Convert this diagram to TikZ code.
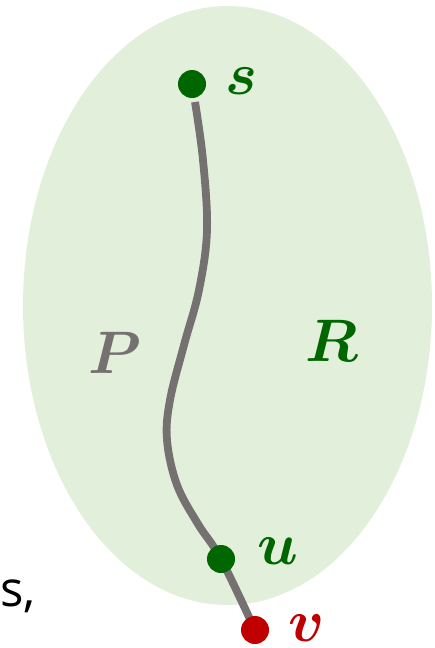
\documentclass[tikz,border=0pt]{standalone}
\usepackage{fontspec}
\usepackage{bm}
\usepackage{graphicx}
\newfontfamily\sansf{Open Sans}
\definecolor{regfill}{HTML}{E2EFDA}
\definecolor{dkgreen}{HTML}{006600}
\definecolor{pathgray}{HTML}{767171}
\definecolor{dkred}{HTML}{C00000}
\newcommand{\biglbl}[1]{\scalebox{6}{$\bm{#1}$}}
\tikzset{
  dot/.style={circle,inner sep=0pt,minimum size=28pt},
  lbl/.style={inner sep=0pt},
  pathline/.style={draw=pathgray,line width=7.8pt}
}
\begin{document}
\begin{tikzpicture}[x=1pt,y=-1pt]
\useasboundingbox (0,0) rectangle (434,648);
\fill[regfill] (227.5,305.5) ellipse [x radius=204.5, y radius=299.5];
\node[dot] (v) at (255,630) {};
\draw[pathline] plot[smooth,tension=0.6] coordinates {(195,102) (203,160) (207,230) (199,290) (184,345) (170,400) (167,440) (177,485) (198,524) (221,559) (255,630)};
\node[dot,fill=dkgreen] (s) at (192,84) {};
\node[dot,fill=dkgreen] (u) at (221,559) {};
\node[dot,fill=dkred] at (v) {};
\node[lbl,text=dkgreen] (sl) at (241,81) {\biglbl{s}};
\node[lbl,text=pathgray] (pl) at (115,353) {\biglbl{P}};
\node[lbl,text=dkgreen] (rl) at (332,341) {\biglbl{R}};
\node[lbl,text=dkgreen] (ul) at (278,551) {\biglbl{u}};
\node[lbl,text=dkred] (vl) at (307,628) {\biglbl{v}};
\node[inner sep=0pt,anchor=base west,font=\sansf\fontsize{49}{58}\selectfont] (cut) at (0,606) {s,};
\end{tikzpicture}
\end{document}
